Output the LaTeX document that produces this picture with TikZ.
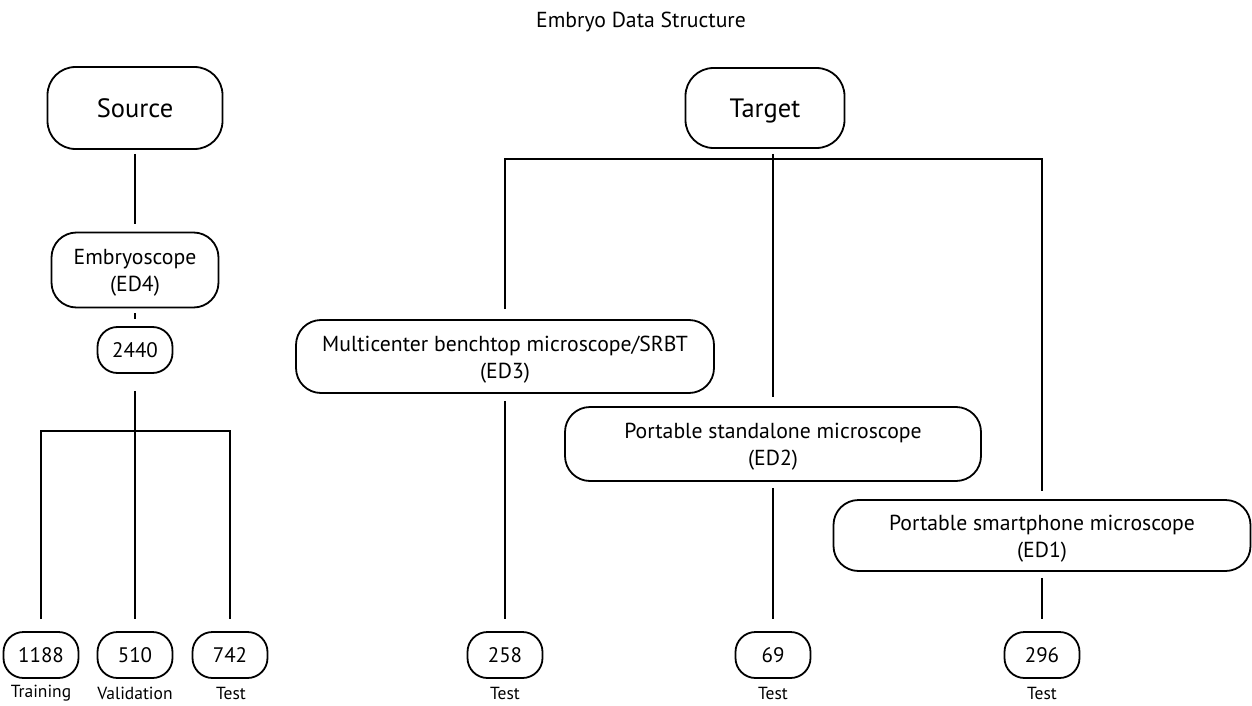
\documentclass[tikz,border=0pt]{standalone}
\usepackage{fontspec}
\setmainfont{PT Sans}
\newcommand{\topstrut}{\rule{0pt}{21pt}}
\begin{document}
\begin{tikzpicture}[x=1pt,y=-1pt,
  box/.style={draw, line width=1.8pt, rounded corners=#1, align=center, inner sep=0pt},
  box/.default=24pt,
  numbox/.style={box=20pt, minimum width=75pt, minimum height=46pt, font=\fontsize{21}{24}\selectfont, text height=15pt, text depth=0pt},
  headbox/.style={box=28pt, font=\fontsize{26.5}{30}\selectfont, text height=19pt, text depth=0pt},
  txt/.style={font=\fontsize{21.7}{27}\selectfont},
  lbl/.style={font=\fontsize{17.5}{20}\selectfont, inner sep=0pt},
  conn/.style={line width=2pt}]
\useasboundingbox (0,0) rectangle (1252,706);
\node[font=\fontsize{21.7}{26}\selectfont] (title) at (641,22) {Embryo Data Structure};
% source side
\node[headbox, minimum width=175pt, minimum height=82pt] (src) at (135,108) {Source};
\node[box=25pt, txt, minimum width=167pt, minimum height=75pt] (emb) at (135,270) {\topstrut Embryoscope\\(ED4)};
\node[numbox] (n2440) at (135,350) {2440};
\node[numbox] (n1188) at (41,655) {1188};
\node[numbox] (n510) at (135,655) {510};
\node[numbox] (n742) at (230,655) {742};
\node[lbl] (l1188) at (41,693) {Training};
\node[lbl] (l510) at (135,693) {Validation};
\node[lbl] (l742) at (231,693) {Test};
% target side
\node[headbox, minimum width=159pt, minimum height=80pt] (tgt) at (765,108) {Target};
\node[box=25pt, txt, minimum width=418pt, minimum height=73pt] (ed3) at (505,356.5) {\topstrut Multicenter benchtop microscope/SRBT\\(ED3)};
\node[box=25pt, txt, minimum width=416pt, minimum height=74pt] (ed2) at (773,444) {\topstrut Portable standalone microscope\\(ED2)};
\node[box=25pt, txt, minimum width=417pt, minimum height=71pt] (ed1) at (1042,535.5) {\topstrut Portable smartphone microscope\\(ED1)};
\node[numbox] (n258) at (505,655) {258};
\node[numbox] (n69) at (773,655) {69};
\node[numbox] (n296) at (1042,655) {296};
\node[lbl] (l258) at (505,693) {Test};
\node[lbl] (l69) at (773,693) {Test};
\node[lbl] (l296) at (1042,693) {Test};
% connectors
\coordinate (sbar) at (0,431);
\coordinate (tbar) at (0,159);
\draw[conn] ([yshift=-4pt]src.south) -- ([yshift=8pt]src.south |- emb.north);
\draw[conn] ([yshift=-5pt]emb.south) -- ([yshift=7pt]emb.south |- n2440.north);
\draw[conn] ([yshift=-17pt]n2440.south) -- (n2440.south |- sbar);
\draw[conn] ([yshift=12pt]n1188.north) -- (n1188.north |- sbar) -- (n742.north |- sbar) -- ([yshift=12pt]n742.north);
\draw[conn] (n510.north |- sbar) -- ([yshift=12pt]n510.north);
\draw[conn] ([yshift=10pt]ed3.north) -- (ed3.north |- tbar) -- (ed1.north |- tbar) -- ([yshift=8pt]ed1.north);
\draw[conn] ([yshift=-5pt]ed2.north |- tgt.south) -- ([yshift=9pt]ed2.north);
\draw[conn] ([yshift=-7pt]ed3.south) -- ([yshift=12pt]ed3.south |- n258.north);
\draw[conn] ([yshift=-6pt]ed2.south) -- ([yshift=12pt]n69.north);
\draw[conn] ([yshift=-6pt]ed1.south) -- ([yshift=12pt]ed1.south |- n296.north);
\end{tikzpicture}
\end{document}
